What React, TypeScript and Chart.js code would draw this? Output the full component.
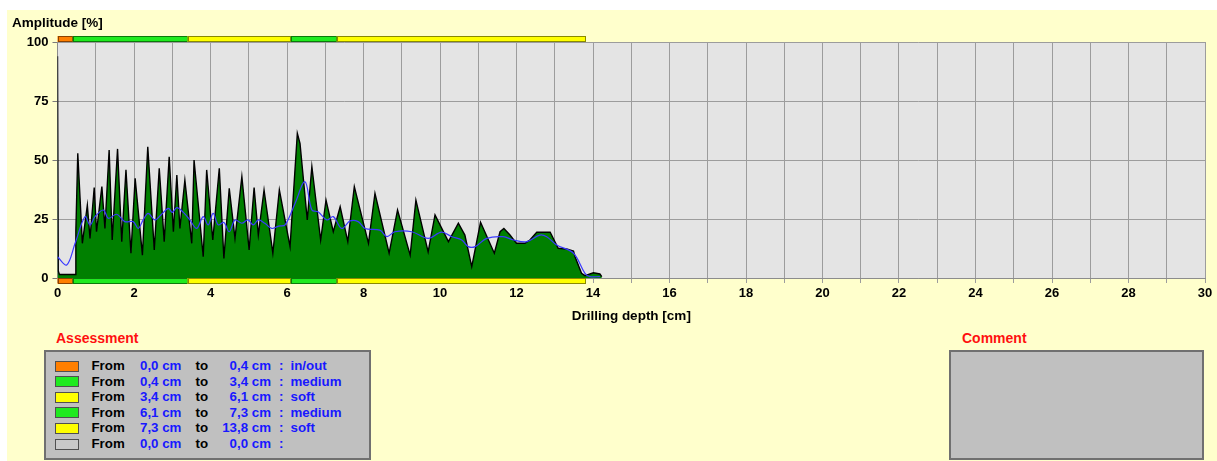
import React, { useEffect, useRef } from 'react';
import { Chart, registerables } from 'chart.js';

Chart.register(...registerables);

// ---- Data ----
const depthCm = [
  0, 0.02, 0.05, 0.46, 0.48, 0.53, 0.65, 0.78, 0.85, 0.96,
  1.02, 1.16, 1.24, 1.35, 1.43, 1.57, 1.68, 1.79, 1.92, 2.03,
  2.22, 2.36, 2.53, 2.66, 2.79, 2.92, 3.03, 3.12, 3.2, 3.33,
  3.51, 3.57, 3.81, 3.9, 4.06, 4.23, 4.35, 4.49, 4.64, 4.82,
  5.01, 5.14, 5.25, 5.4, 5.63, 5.8, 6.08, 6.27, 6.34, 6.53,
  6.65, 6.88, 7.02, 7.21, 7.39, 7.59, 7.76, 8.13, 8.3, 8.67,
  8.89, 9.22, 9.37, 9.69, 9.87, 10.0, 10.22, 10.48, 10.65, 10.83,
  11.06, 11.42, 11.57, 11.67, 11.83, 12.0, 12.22, 12.35, 12.53, 12.88,
  13.09, 13.31, 13.49, 13.53, 13.7, 13.79, 14.01, 14.18, 14.23,
];
const amplitudePct = [
  94, 3, 1.5, 1.5, 20, 52.8, 14.7, 30.9, 16.8, 38.3,
  19.6, 38.7, 21, 54.2, 16.1, 54.7, 15.4, 45.8, 10.5, 42.2,
  9.7, 55.6, 11.9, 46.5, 15.4, 51.4, 19.6, 43.6, 21, 41.5,
  14.7, 50, 9, 45.8, 16.1, 46.5, 8.3, 38, 16.8, 42.9,
  11.9, 38.3, 18.2, 37.3, 10.5, 37.3, 13.3, 61.3, 57, 24.6,
  47.2, 16.1, 33, 19.6, 30.2, 15.4, 38.7, 14.7, 35.9, 10.5,
  28.8, 9.7, 33, 11.1, 26.7, 22.5, 15.4, 23.2, 18.2, 4.8,
  23.6, 10.5, 19.6, 21, 18.2, 14.7, 14.7, 16.1, 19.4, 19.4,
  12.6, 12.3, 11.4, 9, 2, 1, 2.2, 1.7, 0.6,
];

const avgDepthCm = [
  0, 0.24, 0.46, 0.72, 0.85, 0.98, 1.2, 1.33, 1.55, 1.76,
  1.98, 2.11, 2.24, 2.37, 2.55, 2.72, 2.9, 3.0, 3.12, 3.29,
  3.46, 3.64, 3.81, 3.94, 4.07, 4.2, 4.35, 4.49, 4.64, 4.82,
  4.98, 5.12, 5.25, 5.42, 5.6, 5.78, 5.95, 6.21, 6.47, 6.65,
  6.82, 7.04, 7.21, 7.43, 7.65, 7.86, 8.04, 8.43, 8.61, 8.82,
  9.26, 9.69, 10.04, 10.31, 10.57, 10.74, 10.92, 11.22, 11.65, 11.92,
  12.27, 12.61, 12.79, 13.05, 13.49, 13.79, 13.92, 14.18,
];
const avgAmplitudePct = [
  9, 5.5, 14.7, 26, 22.5, 26, 28.8, 25.3, 27, 23.9,
  23.9, 21, 24.6, 27.4, 24.6, 27, 29.5, 27.8, 29.8, 27.8,
  24.6, 21, 26, 22.5, 27.4, 22.5, 23.5, 19.6, 24.6, 23.2,
  24.6, 22.5, 24.6, 23.2, 21, 22, 22.5, 31.6, 40.8, 28.8,
  28, 24.6, 26, 21, 24.2, 23.9, 21, 20.3, 17.5, 19.6,
  19.6, 16.8, 19.4, 17.5, 16.1, 13.3, 13.3, 16.8, 17.5, 16.1,
  15.4, 18.2, 17.5, 14, 10.5, 2, 0.6, 0.6,
];

const xTickValues = [0, 2, 4, 6, 8, 10, 12, 14, 16, 18, 20, 22, 24, 26, 28, 30];
const yTickValues = [0, 25, 50, 75, 100];

const assessFrom = [0.0, 0.4, 3.4, 6.1, 7.3, 0.0];
const assessTo = [0.4, 3.4, 6.1, 7.3, 13.8, 0.0];
const assessLabel = ['in/out', 'medium', 'soft', 'medium', 'soft', ''];
const assessColor = ['#FF7F00', '#1FEA1F', '#FFFF00', '#1FEA1F', '#FFFF00', '#C9C9C9'];
const assessEdge = ['#8A4200', '#0A7A0A', '#8A8A00', '#0A7A0A', '#8A8A00', '#606060'];

const FONT = "'Liberation Sans', Arial, Helvetica, sans-serif";

const fmt = (v: number) => v.toFixed(1).replace('.', ',');

const plotBgPlugin = {
  id: 'plotBg',
  beforeDraw(chart: any) {
    const { ctx, chartArea } = chart;
    ctx.save();
    ctx.fillStyle = '#E4E4E4';
    ctx.fillRect(chartArea.left, chartArea.top, chartArea.right - chartArea.left, chartArea.bottom - chartArea.top);
    ctx.restore();
  },
};

const assessBarsPlugin = {
  id: 'assessBars',
  afterDraw(chart: any) {
    const { ctx, chartArea } = chart;
    const xs = chart.scales.x;
    ctx.save();
    for (let i = 0; i < assessFrom.length; i++) {
      if (assessTo[i] <= assessFrom[i]) continue;
      const x0 = xs.getPixelForValue(assessFrom[i]);
      const x1 = xs.getPixelForValue(assessTo[i]);
      for (const y of [chartArea.top - 6, chartArea.bottom]) {
        ctx.fillStyle = assessColor[i];
        ctx.fillRect(x0, y, x1 - x0, 6);
        ctx.strokeStyle = assessEdge[i];
        ctx.lineWidth = 1;
        ctx.strokeRect(Math.round(x0) + 0.5, Math.round(y) + 0.5, Math.round(x1 - x0) - 1, 5);
      }
    }
    ctx.restore();
  },
};

function AmplitudeChart() {
  const ref = useRef<HTMLCanvasElement | null>(null);
  useEffect(() => {
    if (!ref.current) return;
    const chart = new Chart(ref.current, {
      type: 'line',
      data: {
        datasets: [
          {
            label: 'Mean',
            data: avgDepthCm.map((x, i) => ({ x, y: avgAmplitudePct[i] })),
            borderColor: '#3a3aff',
            borderWidth: 1.2,
            pointRadius: 0,
            fill: false,
            tension: 0.35,
            order: 0,
          },
          {
            label: 'Amplitude',
            data: depthCm.map((x, i) => ({ x, y: amplitudePct[i] })),
            borderColor: '#000000',
            backgroundColor: '#008000',
            borderWidth: 1.4,
            pointRadius: 0,
            fill: 'origin',
            tension: 0,
            order: 1,
          },
        ],
      },
      options: {
        responsive: false,
        animation: false,
        devicePixelRatio: 1,
        layout: { padding: { top: 42, right: 12, left: 0, bottom: 0 } },
        plugins: { legend: { display: false }, tooltip: { enabled: false } },
        scales: {
          x: {
            type: 'linear',
            min: 0,
            max: 30,
            afterFit: (s: any) => { s.height = 52; },
            ticks: {
              stepSize: 1,
              autoSkip: false,
              maxRotation: 0,
              padding: 3,
              color: '#000',
              font: { family: FONT, size: 13, weight: 'bold' },
              callback: (v: any) => (xTickValues.includes(Number(v)) ? String(v) : ''),
            },
            grid: { color: '#9c9c9c', tickColor: '#9c9c9c', tickLength: 5, lineWidth: 1 },
            border: { color: '#8c8c8c' },
            title: {
              display: true,
              text: 'Drilling depth [cm]',
              color: '#000',
              font: { family: FONT, size: 13.5, weight: 'bold' },
              padding: { top: 0, bottom: 6 },
            },
          },
          y: {
            min: 0,
            max: 100,
            afterFit: (s: any) => { s.width = 57.5; },
            afterBuildTicks: (s: any) => { s.ticks = yTickValues.map((v) => ({ value: v })); },
            ticks: {
              padding: 4,
              color: '#000',
              font: { family: FONT, size: 13, weight: 'bold' },
            },
            grid: { color: '#9c9c9c', tickColor: '#7a7a7a', tickLength: 5, lineWidth: 1 },
            border: { color: '#8c8c8c' },
          },
        },
      },
      plugins: [plotBgPlugin, assessBarsPlugin],
    } as any);
    return () => chart.destroy();
  }, []);
  return (
    <canvas
      ref={ref}
      width={1217}
      height={330}
      style={{ position: 'absolute', left: 0, top: 0, width: 1217, height: 330, display: 'block' }}
    />
  );
}

export default function App() {
  const rowTop = (i: number) => 358 + i * 15.6;
  const txt: React.CSSProperties = {
    position: 'absolute',
    fontFamily: FONT,
    fontWeight: 'bold',
    fontSize: 13.3,
    lineHeight: '16px',
    whiteSpace: 'nowrap',
  };
  return (
    <div style={{ position: 'absolute', left: 0, top: 0, width: 1217, height: 461, background: '#ffffff', overflow: 'hidden' }}>
      <div style={{ position: 'absolute', left: 7, top: 10, width: 1210, height: 451, background: '#FFFFCC' }} />
      <AmplitudeChart />
      <div style={{ ...txt, left: 12, top: 15, fontSize: 13.5, color: '#000' }}>Amplitude [%]</div>

      <div style={{ ...txt, left: 56, top: 330, fontSize: 14, color: '#FF1010' }}>Assessment</div>
      <div
        style={{
          position: 'absolute', left: 44, top: 350, width: 327, height: 110, boxSizing: 'border-box',
          background: '#C0C0C0', border: '2px solid #707070',
        }}
      />
      {assessFrom.map((f, i) => (
        <React.Fragment key={i}>
          <div
            style={{
              position: 'absolute', left: 55, top: rowTop(i) + 2.5, width: 24, height: 11, boxSizing: 'border-box',
              background: assessColor[i], border: '1px solid #505050',
            }}
          />
          <div style={{ ...txt, left: 91.5, top: rowTop(i), color: '#000' }}>From</div>
          <div style={{ ...txt, left: 140, top: rowTop(i), color: '#1818FF' }}>{fmt(f)} cm</div>
          <div style={{ ...txt, left: 195.5, top: rowTop(i), color: '#000' }}>to</div>
          <div style={{ ...txt, left: 210, width: 61, textAlign: 'right', top: rowTop(i), color: '#1818FF' }}>{fmt(assessTo[i])} cm</div>
          <div style={{ ...txt, left: 279, top: rowTop(i), color: '#1818FF' }}>:</div>
          <div style={{ ...txt, left: 290.5, top: rowTop(i), color: '#1818FF' }}>{assessLabel[i]}</div>
        </React.Fragment>
      ))}

      <div style={{ ...txt, left: 962, top: 330, fontSize: 14, color: '#FF1010' }}>Comment</div>
      <div
        style={{
          position: 'absolute', left: 949, top: 350, width: 255, height: 110, boxSizing: 'border-box',
          background: '#C0C0C0', border: '2px solid #707070',
        }}
      />
    </div>
  );
}
